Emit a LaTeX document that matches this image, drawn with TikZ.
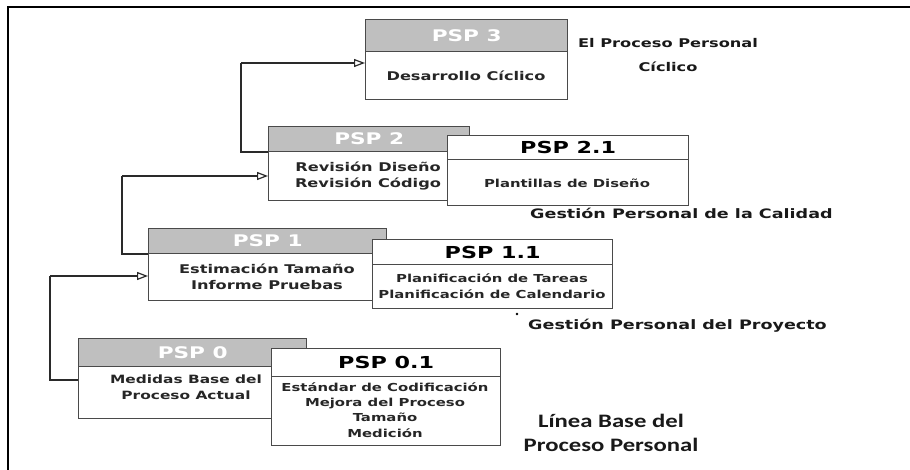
\documentclass[tikz,border=0pt]{standalone}
\usepackage{fontspec}
\usetikzlibrary{arrows.meta}
\newfontfamily\vb{DejaVu Sans}[FakeStretch=1.35]
\newfontfamily\cb{Carlito}[FakeStretch=1.3]
\definecolor{bd}{HTML}{4A4A4A}
\definecolor{hg}{HTML}{BFBFBF}
\definecolor{ln}{HTML}{2A2A2A}
\tikzset{
  hdr/.style={draw=bd, fill=hg, line width=1.3pt, anchor=north west, inner sep=0pt,
              text=white, font=\vb\bfseries\fontsize{16}{16}\selectfont},
  bdy/.style={draw=bd, fill=white, line width=1.3pt, anchor=north west, inner sep=0pt},
  whd/.style={draw=bd, fill=white, line width=1.3pt, anchor=north west, inner sep=0pt,
              font=\vb\bfseries\fontsize{16.5}{16}\selectfont},
  btxt/.style={align=center, inner sep=0pt, text=black!85,
              font=\vb\bfseries\fontsize{12}{16}\selectfont},
  stxt/.style={align=center, inner sep=0pt, text=black!85,
              font=\vb\bfseries\fontsize{11}{15.3}\selectfont},
  lbl/.style={inner sep=0pt, text=black!90, font=\vb\bfseries\fontsize{13}{24}\selectfont},
  conn/.style={draw=ln, line width=1.6pt},
  arr/.style={conn, -{Triangle[open, length=11pt, width=8pt, line width=1.2pt]}}
}
\begin{document}
\begin{tikzpicture}[x=1pt,y=-1pt]
\useasboundingbox (0,0) rectangle (910,470);
\fill[white] (0,0) rectangle (910,470);
% frame
\draw[black, line width=1.8pt] (8,470) -- (8,7) -- (910,7);

% PSP 3
\node[hdr, minimum width=202pt, minimum height=32pt] (p3h) at (365,19) {PSP 3};
\node[bdy, minimum width=202pt, minimum height=48pt] (p3b) at (365,51) {};
\node[btxt] (p3t) at (466,76) {Desarrollo Cíclico};

% PSP 2
\node[hdr, minimum width=201pt, minimum height=25pt] (p2h) at (268,126) {PSP 2};
\node[bdy, minimum width=201pt, minimum height=49pt] (p2b) at (268,151) {};
\node[btxt] (p2t) at (368,176) {Revisión Diseño\\Revisión Código};

% PSP 2.1
\node[whd, minimum width=241pt, minimum height=24pt] (p21h) at (447,135) {PSP 2.1};
\node[bdy, minimum width=241pt, minimum height=46pt] (p21b) at (447,159) {};
\node[btxt, font=\vb\bfseries\fontsize{11}{15}\selectfont] (p21t) at (567,183) {Plantillas de Diseño};

% PSP 1
\node[hdr, minimum width=238pt, minimum height=25pt] (p1h) at (148,228) {PSP 1};
\node[bdy, minimum width=238pt, minimum height=47pt] (p1b) at (148,253) {};
\node[btxt] (p1t) at (267,277) {Estimación Tamaño\\Informe Pruebas};

% PSP 1.1
\node[whd, minimum width=240pt, minimum height=25pt] (p11h) at (372,239) {PSP 1.1};
\node[bdy, minimum width=240pt, minimum height=44pt] (p11b) at (372,264) {};
\node[btxt, font=\vb\bfseries\fontsize{11}{16}\selectfont] (p11t) at (492,286) {Planificación de Tareas\\Planificación de Calendario};

% PSP 0
\node[hdr, minimum width=228pt, minimum height=28pt] (p0h) at (78,338) {PSP 0};
\node[bdy, minimum width=228pt, minimum height=52pt] (p0b) at (78,366) {};
\node[btxt, font=\vb\bfseries\fontsize{11.4}{16}\selectfont] (p0t) at (186,387) {Medidas Base del\\Proceso Actual};

% PSP 0.1
\node[whd, minimum width=229pt, minimum height=28pt] (p01h) at (271,348) {PSP 0.1};
\node[bdy, minimum width=229pt, minimum height=69pt] (p01b) at (271,376) {};
\node[stxt] (p01t) at (385,410) {Estándar de Codificación\\Mejora del Proceso\\Tamaño\\Medición};

% connectors
\coordinate (k3) at (241,63);
\coordinate (k2) at (122,176);
\coordinate (k1) at (50,276);
\coordinate (j0) at (78,380);
\draw[conn] (p2h.south west) -| (k3);
\draw[arr] (k3) -- (k3 -| p3b.west);
\draw[conn] (p1h.south west) -| (k2);
\draw[arr] (k2) -- (k2 -| p2b.west);
\draw[conn] (j0) -| (k1);
\draw[arr] (k1) -- (k1 -| p1b.west);

% stray mark
\fill[black] (517,314) circle (1.3pt) coordinate (dot);

% labels
\node[lbl, align=center, font=\vb\bfseries\fontsize{12}{24}\selectfont] (l3) at (668,55) {El Proceso Personal\\Cíclico};
\node[lbl, anchor=west] (l2) at (530,213) {Gestión Personal de la Calidad};
\node[lbl, anchor=west] (l1) at (528,326) {Gestión Personal del Proyecto};
\node[lbl, align=center, font=\cb\bfseries\fontsize{19}{24}\selectfont] (l0) at (611,433) {Línea Base del\\Proceso Personal};
\end{tikzpicture}
\end{document}
